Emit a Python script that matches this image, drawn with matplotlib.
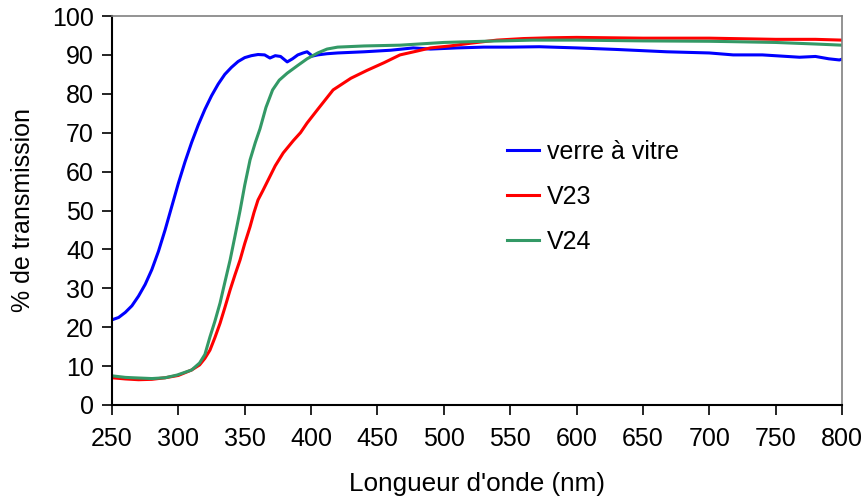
import matplotlib.pyplot as plt

plt.rcParams['font.family'] = ['Liberation Sans', 'DejaVu Sans']

# wavelength (nm) / transmission (%)
wl_verre = [250, 255, 260, 265, 270, 275, 280, 285, 290, 295, 300, 305, 310, 315, 320, 325, 330,
            335, 340, 345, 350, 355, 360, 365, 369, 373, 377, 382, 386, 390, 394, 397, 401,
            405, 412, 420, 440, 460, 477, 490, 510, 530, 550, 572, 600, 630, 668, 700, 718,
            740, 768, 780, 790, 798, 800]
tr_verre = [21.9, 22.5, 23.8, 25.5, 28.0, 31.0, 34.8, 39.5, 45.0, 51.0, 57.0, 62.5, 67.5, 72.0,
            76.0, 79.5, 82.5, 85.0, 86.8, 88.3, 89.3, 89.8, 90.1, 90.0, 89.2, 89.8, 89.6, 88.2,
            89.0, 90.0, 90.5, 90.8, 89.7, 90.0, 90.3, 90.5, 90.8, 91.2, 91.8, 91.5, 91.8, 92.0,
            92.0, 92.1, 91.8, 91.4, 90.8, 90.5, 90.0, 90.0, 89.4, 89.6, 89.0, 88.7, 88.9]

wl_v23 = [250, 260, 270, 280, 290, 300, 310, 316, 320, 323.8, 327.5, 331.4, 335, 339, 342.7,
          346.5, 350, 354, 357, 360, 363.5, 367.6, 373, 379, 386.7, 392, 397, 405, 416.6, 430,
          442, 455, 467, 480, 490, 504.7, 520, 540, 560, 580, 600, 650, 700, 750, 780, 800]
tr_v23 = [7.0, 6.7, 6.5, 6.6, 7.0, 7.6, 9.0, 10.3, 12.0, 14.1, 17.3, 21.0, 25.0, 29.6, 33.5,
          37.3, 41.5, 45.8, 49.5, 52.7, 55.0, 57.8, 61.5, 64.8, 68.0, 70.0, 72.5, 76.0, 81.0,
          84.0, 86.0, 88.0, 90.0, 91.0, 91.8, 92.3, 93.0, 93.8, 94.2, 94.4, 94.5, 94.3, 94.3,
          94.0, 94.0, 93.8]

wl_v24 = [250, 260, 266, 280, 290, 299, 310, 316, 320, 323.8, 327.5, 331.4, 335, 339, 342.7,
          346.5, 350, 354, 358, 361.5, 366, 371, 376, 382, 390, 397, 405, 412, 420, 440, 467,
          500, 530, 567, 600, 650, 700, 718, 750, 780, 800]
tr_v24 = [7.5, 7.1, 7.0, 6.8, 7.0, 7.7, 9.0, 10.8, 13.0, 17.5, 21.5, 26.2, 31.5, 37.3, 43.5,
          50.0, 56.5, 63.0, 67.5, 71.0, 76.5, 81.0, 83.5, 85.3, 87.3, 89.0, 90.5, 91.5, 92.0,
          92.3, 92.5, 93.2, 93.5, 93.8, 93.8, 93.6, 93.5, 93.4, 93.2, 92.8, 92.5]

fig = plt.figure(figsize=(8.67, 5.03), dpi=100)
ax = fig.add_axes([112 / 867, 1 - 405 / 503, 730 / 867, 389 / 503])

ax.plot(wl_verre, tr_verre, color='#0000FF', lw=2.2, label='verre à vitre')
ax.plot(wl_v23, tr_v23, color='#FF0000', lw=2.2, label='V23')
ax.plot(wl_v24, tr_v24, color='#339966', lw=2.2, label='V24')

ax.set_xlim(250, 800)
ax.set_ylim(0, 100)
ax.set_xticks(range(250, 801, 50))
ax.set_yticks(range(0, 101, 10))
ax.tick_params(labelsize=18, direction='out', length=7, width=1.2, pad=6)
ax.tick_params(axis='x', pad=9)

for side in ['left', 'bottom']:
    ax.spines[side].set_linewidth(1.5)
for side in ['top', 'right']:
    ax.spines[side].set_color('#808080')
    ax.spines[side].set_linewidth(1.2)

ax.set_xlabel("Longueur d'onde (nm)", fontsize=18.8, labelpad=15)
ax.set_ylabel('% de transmission', fontsize=18, labelpad=12)

ax.legend(loc='upper left', bbox_to_anchor=(0.51, 0.74), frameon=False, fontsize=18,
          handlelength=1.3, handletextpad=0.3, labelspacing=0.85)

fig.savefig('out.png', dpi=100)
